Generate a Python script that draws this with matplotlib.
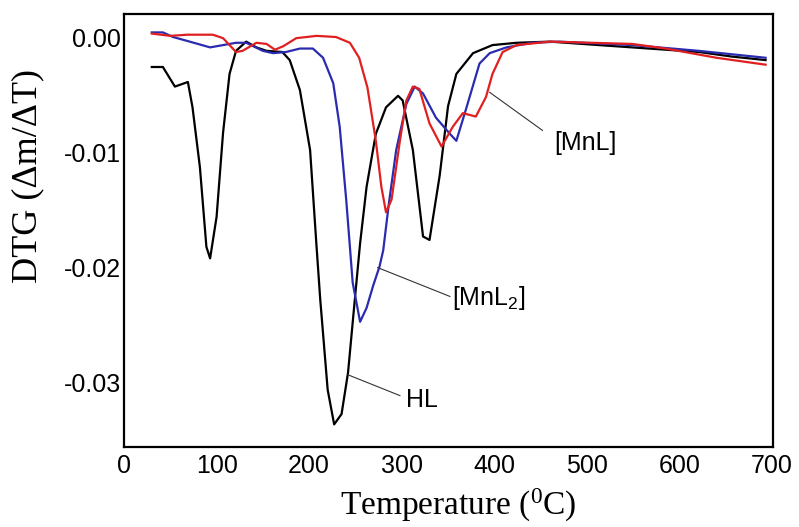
import matplotlib
matplotlib.use("Agg")
import matplotlib.pyplot as plt

# ---- data ----
hl_T = [30, 42, 55, 69, 74, 82, 89, 93, 100, 107, 114, 121, 132, 143, 154, 171, 179,
        190, 201, 208, 212, 220, 227, 235, 242, 248, 255, 262, 272, 283, 296, 301, 312,
        323, 330, 341, 350, 359, 377, 398, 424, 460, 513, 567, 621, 657, 693]
hl_v = [-0.0026, -0.0026, -0.0043, -0.0039, -0.0061, -0.0113, -0.0182, -0.0192, -0.0156,
        -0.0083, -0.0032, -0.0012, -0.0004, -0.0009, -0.0012, -0.0013, -0.0020,
        -0.0046, -0.0098, -0.0182, -0.0228, -0.0306, -0.0336, -0.0327, -0.0291, -0.0239,
        -0.0179, -0.0130, -0.0084, -0.0061, -0.0051, -0.0055, -0.0098,
        -0.0173, -0.0176, -0.0120, -0.0060, -0.0032, -0.0014, -0.0007, -0.0005, -0.0004,
        -0.0007, -0.0010, -0.0013, -0.0017, -0.0020]

mnl2_T = [30, 42, 53, 71, 93, 107, 121, 132, 150, 161, 175, 190, 204, 215, 226, 233, 240,
          244, 247, 251, 255, 262, 269, 276, 280, 286, 294, 305, 314, 323, 337, 352, 359,
          370, 384, 395, 413, 441, 470, 549, 621, 657, 693]
mnl2_v = [0.0004, 0.0004, 0.0000, -0.0004, -0.0009, -0.0007, -0.0005, -0.0005, -0.0012,
          -0.0014, -0.0013, -0.0010, -0.0010, -0.0018, -0.0040, -0.0078, -0.0141,
          -0.0182, -0.0213, -0.0230, -0.0247, -0.0235, -0.0216, -0.0199, -0.0185, -0.0145,
          -0.0098, -0.0058, -0.0043, -0.0049, -0.0070, -0.0084, -0.0090,
          -0.0061, -0.0023, -0.0014, -0.0009, -0.0005, -0.0004, -0.0007, -0.0012, -0.0015,
          -0.0018]

mnl_T = [30, 50, 68, 96, 107, 121, 128, 143, 154, 163, 172, 186, 208, 229, 244, 254, 263,
         272, 278, 283, 289, 298, 305, 312, 319, 330, 343, 355, 366, 380, 391, 398, 409,
         424, 460, 549, 585, 640, 693]
mnl_v = [0.0003, 0.0001, 0.0002, 0.0002, -0.0001, -0.0013, -0.0012, -0.0005, -0.0006,
         -0.0011, -0.0008, -0.0001, 0.0001, 0.0000, -0.0005, -0.0018, -0.0044,
         -0.0090, -0.0130, -0.0152, -0.0141, -0.0090, -0.0055, -0.0043, -0.0045, -0.0075,
         -0.0095, -0.0078, -0.0066, -0.0069, -0.0052, -0.0032, -0.0013,
         -0.0007, -0.0004, -0.0006, -0.0010, -0.0018, -0.0024]

x_ticks = [0, 100, 200, 300, 400, 500, 600, 700]
y_ticks = [0.00, -0.01, -0.02, -0.03]
y_tick_labels = ["0.00", "-0.01", "-0.02", "-0.03"]

series_labels = ["HL", "[MnL$\\mathregular{_2}$]", "[MnL]"]

# ---- figure ----
plt.rcParams['mathtext.fontset'] = 'custom'
plt.rcParams['mathtext.rm'] = 'Liberation Sans'

fig = plt.figure(figsize=(7.99, 5.27), dpi=100)
ax = fig.add_axes([124 / 799, 1 - 447 / 527, (773 - 124) / 799, (447 - 13.5) / 527])

ax.plot(hl_T, hl_v, color='black', lw=1.6)
ax.plot(mnl2_T, mnl2_v, color='#2b2bb0', lw=1.6)
ax.plot(mnl_T, mnl_v, color='#e02020', lw=1.6)

ax.set_xlim(0, 701)
ax.set_ylim(-0.03556, 0.00204)
ax.set_xticks(x_ticks)
ax.set_xticklabels([str(t) for t in x_ticks])
ax.set_yticks(y_ticks)
ax.set_yticklabels(y_tick_labels)
ax.tick_params(length=0, labelsize=18)
ax.tick_params(axis='y', pad=2)
ax.tick_params(axis='x', pad=5)
for lab in ax.get_xticklabels() + ax.get_yticklabels():
    lab.set_family('Liberation Sans')
for sp in ax.spines.values():
    sp.set_linewidth(1.6)

# annotations
ann_font = dict(family='Liberation Sans', fontsize=18, color='black')
ax.plot([395, 452], [-0.0048, -0.0081], color='#333333', lw=0.8)
ax.text(498, -0.0092, series_labels[2], ha='center', va='center', **ann_font)
ax.plot([274, 352], [-0.0200, -0.0225], color='#333333', lw=0.8)
ax.text(394, -0.0226, series_labels[1], ha='center', va='center', **ann_font)
ax.plot([242, 298], [-0.0293, -0.0311], color='#333333', lw=0.8)
ax.text(322, -0.0315, series_labels[0], ha='center', va='center', **ann_font)

# axis labels
fig.text(458 / 799, 1 - 505 / 527, 'Temperature ($\\mathregular{^{0}}$C)',
         ha='center', va='center', family='Liberation Serif', fontsize=24)
fig.text(28 / 799, 1 - 176 / 527, 'DTG (\u0394m/\u0394T)', rotation=90,
         ha='center', va='center', family='Liberation Serif', fontsize=26)

fig.savefig('out.png', dpi=100)
